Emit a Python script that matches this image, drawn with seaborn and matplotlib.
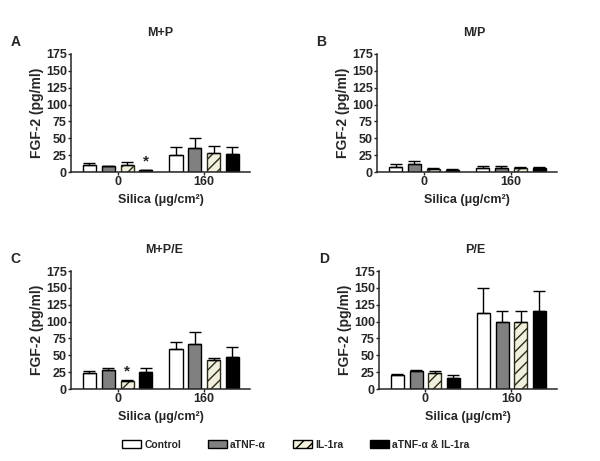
import numpy as np
import pandas as pd
import matplotlib
matplotlib.use("Agg")
import matplotlib.pyplot as plt
import seaborn as sns
from matplotlib.patches import Patch

silica = ["0", "160"]
treatments = ["Control", "aTNF-\u03b1", "IL-1ra", "aTNF-\u03b1 & IL-1ra"]
panel_titles = ["M+P", "M/P", "M+P/E", "P/E"]
panel_letters = ["A", "B", "C", "D"]

# mean values, rows = silica dose, cols = treatment
mean_mp = [[11, 9, 10, 2.5], [25, 36, 28, 26]]
sem_mp = [[3, 0.5, 5, 1], [12, 15, 11, 11]]
mean_m_p = [[8, 12.5, 5, 3.5], [6, 6.5, 6.5, 6]]
sem_m_p = [[4, 4.5, 1.5, 1], [3, 2, 0.5, 1.5]]
mean_mpe = [[24, 28, 12, 25.5], [60, 66, 43, 48]]
sem_mpe = [[2, 3, 2, 5.5], [10, 19, 3, 14]]
mean_pe = [[21, 26, 24, 16.5], [113, 100, 99, 116]]
sem_pe = [[1, 2, 3, 4.5], [37, 16, 17, 29]]

# significance stars: panel index -> (silica index, treatment index)
stars = {0: (0, 3), 2: (0, 2)}

means = [mean_mp, mean_m_p, mean_mpe, mean_pe]
sems = [sem_mp, sem_m_p, sem_mpe, sem_pe]

sns.set_style("ticks")
plt.rcParams['font.family'] = ['Liberation Sans', 'DejaVu Sans']
plt.rcParams['font.weight'] = 'bold'
plt.rcParams['hatch.linewidth'] = 1.0

colors = ["white", "#808080", "#f4f2dc", "black"]
hatches = ["", "", "///", ""]

fig = plt.figure(figsize=(6, 4.61), dpi=100)
positions = [
    [71 / 600, 1 - 172 / 461, 179 / 600, 118 / 461],
    [377 / 600, 1 - 172 / 461, 180 / 600, 118 / 461],
    [71 / 600, 1 - 389 / 461, 179 / 600, 118 / 461],
    [379 / 600, 1 - 389 / 461, 178 / 600, 118 / 461],
]
title_x = [0.5, 0.54, 0.52, 0.54]

for p in range(4):
    ax = fig.add_axes(positions[p])
    rows = []
    for i, s in enumerate(silica):
        for j, t in enumerate(treatments):
            rows.append({"silica": s, "treatment": t, "fgf2": means[p][i][j], "sem": sems[p][i][j]})
    df = pd.DataFrame(rows)
    sns.barplot(data=df, x="silica", y="fgf2", hue="treatment", order=silica,
                hue_order=treatments, palette=colors, errorbar=None, width=0.87,
                gap=0.3, edgecolor="black", linewidth=1, legend=False, ax=ax)
    bar_conts = list(ax.containers)
    for j, cont in enumerate(bar_conts):
        for i, bar in enumerate(cont):
            bar.set_hatch(hatches[j])
            if j == 2:
                bar.set_edgecolor("#2b2b1a")
            xc = bar.get_x() + bar.get_width() / 2
            h = bar.get_height()
            ax.errorbar(xc, h, yerr=[[0], [sems[p][i][j]]], fmt="none",
                        ecolor="black", elinewidth=1, capsize=4, capthick=1, zorder=1)
    if p in stars:
        i, j = stars[p]
        bar = bar_conts[j][i]
        xc = bar.get_x() + bar.get_width() / 2
        ax.text(xc, means[p][i][j] + sems[p][i][j] + 1, "*", ha="center", va="bottom",
                fontsize=11, fontweight="bold")
    ax.set_ylim(0, 175)
    ax.set_yticks(np.arange(0, 176, 25))
    ax.set_xlim(-0.54, 1.53)
    ax.tick_params(labelsize=9, length=2.5, width=1, pad=0.5)
    for lab in ax.get_xticklabels() + ax.get_yticklabels():
        lab.set_fontweight("bold")
    sns.despine(ax=ax)
    for sp in ["left", "bottom"]:
        ax.spines[sp].set_linewidth(1.1)
    ax.set_ylabel("FGF-2 (pg/ml)", fontsize=10, fontweight="bold", labelpad=1)
    ax.set_xlabel("Silica (\u03bcg/cm\u00b2)", fontsize=9, fontweight="bold", labelpad=4)
    ax.set_title(panel_titles[p], fontsize=9, fontweight="bold", pad=13, x=title_x[p])
    ax.text(-0.31, 1.10, panel_letters[p], transform=ax.transAxes, fontsize=10,
            fontweight="bold", ha="center", va="center")

handles = [Patch(facecolor=colors[k], edgecolor="black", hatch=hatches[k], label=treatments[k])
           for k in range(4)]
fig.legend(handles=handles, loc="center", bbox_to_anchor=(296 / 600, 1 - 445 / 461), ncol=4,
           frameon=False, fontsize=7.5, handlelength=1.8, handleheight=0.8,
           handletextpad=0.3, columnspacing=2.6)

fig.savefig("out.png", dpi=100)
